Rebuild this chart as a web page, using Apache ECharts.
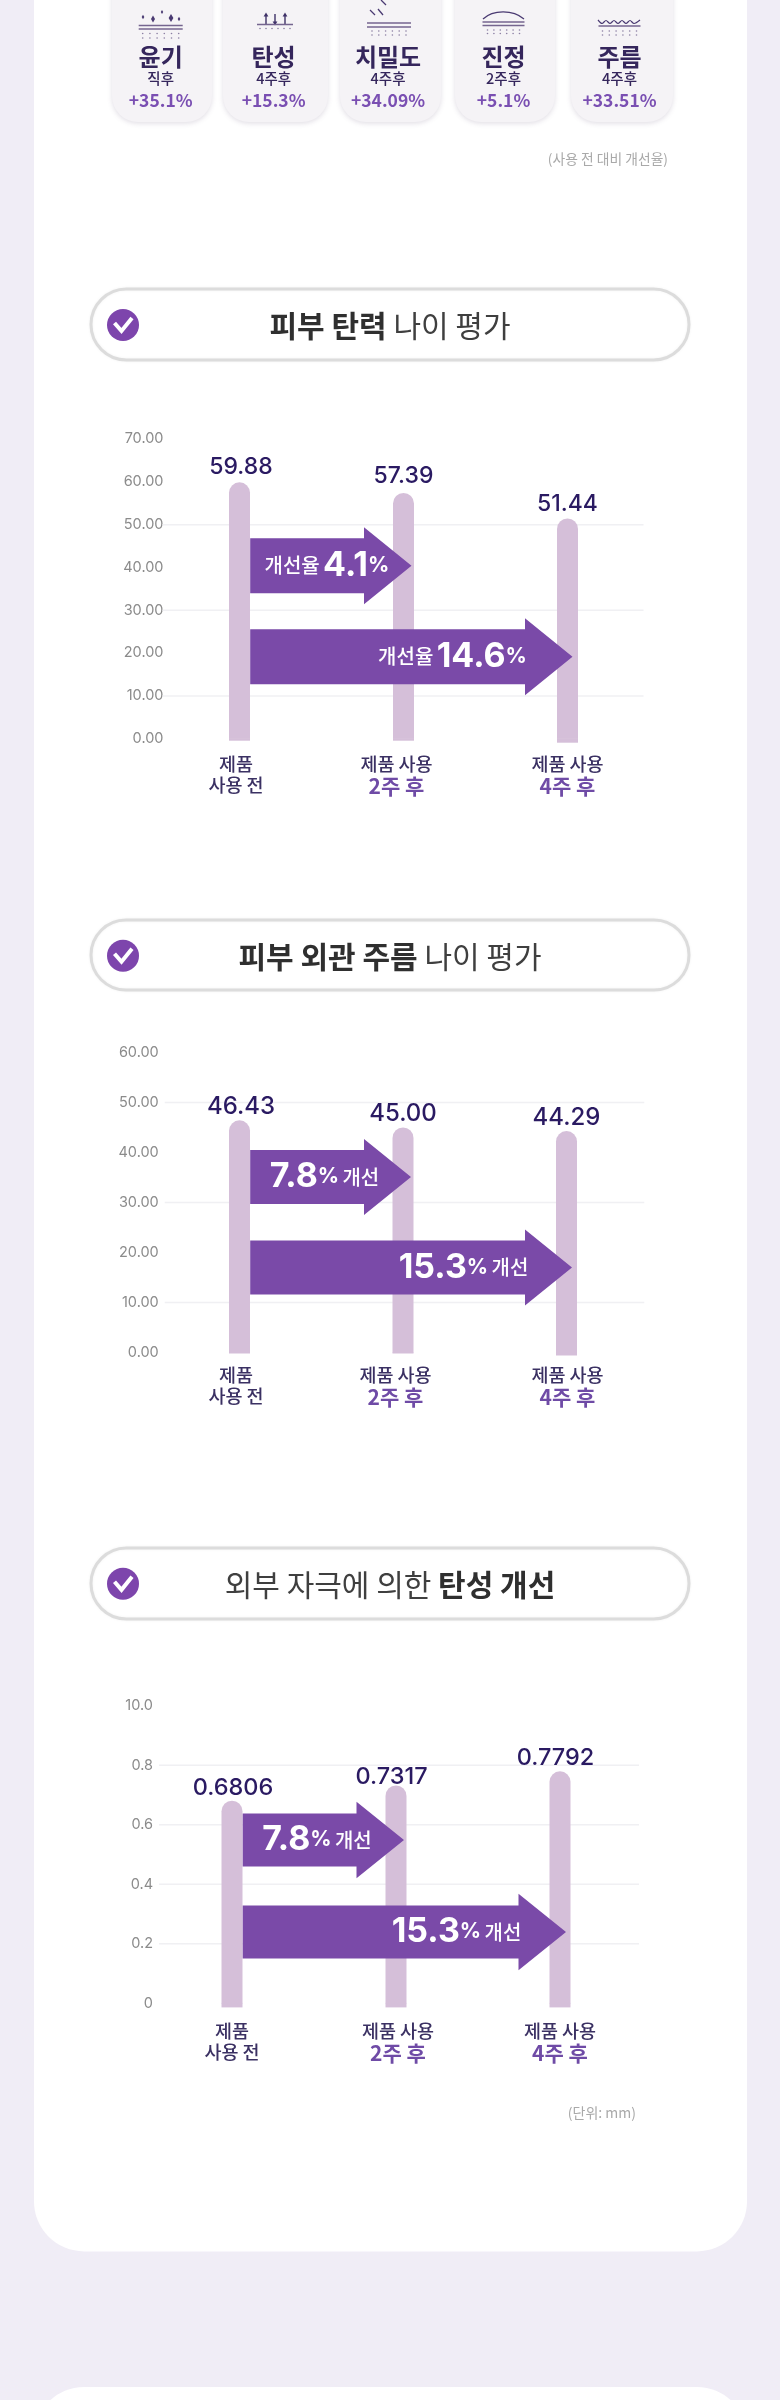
<!DOCTYPE html>
<html><head><meta charset="utf-8">
<style>html,body{margin:0;padding:0;background:#f0edf6}#c{width:780px;height:2400px}</style>
<script src="https://cdn.jsdelivr.net/npm/echarts@6/dist/echarts.min.js"></script>
</head><body><div id="c"></div>
<script>
// ---- data ----
const categories = ['제품\n사용 전', '제품 사용\n2주 후', '제품 사용\n4주 후'];
const elasticityValues = [59.88, 57.39, 51.44];
const wrinkleValues = [46.43, 45.00, 44.29];
const reboundValues = [0.6806, 0.7317, 0.7792];
const reboundTicks = ['0', '0.2', '0.4', '0.6', '0.8', '10.0'];
const elasticityGrid = [10, 30, 50];
const wrinkleGrid = [10, 30, 50];
const reboundGrid = [0.2, 0.4, 0.6, 0.8];
// arrows: from category, to category, level on the value axis
const elasticityArrows = [[0, 1, 40.4], [0, 2, 19.15]];
const wrinkleArrows = [[0, 1, 35.1], [0, 2, 17.0]];
const reboundArrows = [[0, 1, 0.549], [0, 2, 0.24]];
const elasticityArrowText = ['{s|개선율} {b|4.1}{p|%}', '{s|개선율} {b|14.6}{p|%}'];
const wrinkleArrowText = ['{b|7.8}{p|%} {s|개선}', '{b|15.3}{p|%} {s|개선}'];
const reboundArrowText = ['{b|7.8}{p|%} {s|개선}', '{b|15.3}{p|%} {s|개선}'];
const tileNames = ['윤기', '탄성', '치밀도', '진정', '주름'];
const tileTimes = ['직후', '4주후', '4주후', '2주후', '4주후'];
const tileRates = ['+35.1%', '+15.3%', '+34.09%', '+5.1%', '+33.51%'];

// ---- style ----
const FONT = 'Inter, "Noto Sans CJK KR", sans-serif';
const KR = '"Noto Sans CJK KR", sans-serif';
const PURPLE = '#7a4aa8', BAR = '#d5bfd9', NAVY = '#2a1a62', LABEL = '#3b3163', ACCENT = '#6f4ba6';

const charts = [
  {values: elasticityValues, max: 70, interval: 10, dec: 2, gridRows: elasticityGrid, arrows: elasticityArrows, text: elasticityArrowText,
   y0: 738.7, yTop: 439, left: 157.5, width: 492, margin: -6, glL: 5, glR: 6, size: 23,
   labelOff: [[1.5, 0], [0, -1], [0, 1]], catShift: [-3.5, -7, 0], catTop: 15, foot: [2, 2, 4],
   tip: [8, 5], textX: [-84.6, -120], bStart: 10.7, body: 55, headH: 77, headL: 47.5, tickFmt: v => v.toFixed(2)},
  {values: wrinkleValues, max: 60, interval: 10, dec: 2, gridRows: wrinkleGrid, arrows: wrinkleArrows, text: wrinkleArrowText,
   y0: 1352.5, yTop: 1052.5, left: 157.75, width: 490.5, margin: -1, glL: 7, glR: 4, size: 24,
   labelOff: [[1.5, 2], [0, 2], [0, 3]], catShift: [-3.5, -7.5, 1], catTop: 12, foot: [1, 1, 3],
   tip: [8, 5.5], textX: [-86.5, -108.5], bStart: 10.7, body: 54, headH: 76, headL: 47, tickFmt: v => v.toFixed(2)},
  {values: reboundValues, max: 1, interval: 0.2, dec: 4, gridRows: reboundGrid, arrows: reboundArrows, text: reboundArrowText,
   y0: 2003.4, yTop: 1705.6, left: 150, width: 492, margin: -3, glL: 9, glR: 3, size: 23.5,
   labelOff: [[1, 3], [-4.5, 7], [-4.5, 2]], catShift: [0, 2, 0], catTop: 17, foot: [4, 4, 4],
   tip: [8, 6], textX: [-87, -109.5], bStart: 10.7, body: 53, headH: 76.5, headL: 47.5,
   tickFmt: (v) => reboundTicks[Math.round(v / 0.2)]}
];

const grids = [], xAxes = [], yAxes = [], series = [];
charts.forEach((c, k) => {
  grids.push({left: c.left, width: c.width, top: c.yTop, height: c.y0 - c.yTop, containLabel: false});
  const rich = {};
  c.catShift.forEach((dx, i) => {
    const pad = [0, dx < 0 ? -2 * dx : 0, 0, dx > 0 ? 2 * dx : 0];
    rich['a' + i] = {fontFamily: KR, fontSize: 18.5, fontWeight: 500, color: LABEL, lineHeight: 21, padding: pad};
    rich['p' + i] = {fontFamily: KR, fontSize: 21, fontWeight: 700, color: ACCENT, lineHeight: 23, padding: pad};
  });
  xAxes.push({
    type: 'category', gridIndex: k, data: categories,
    axisLine: {show: false}, axisTick: {show: false}, splitLine: {show: false},
    axisLabel: {
      margin: c.catTop, interval: 0, rich,
      formatter: (v, i) => {
        const [a, b] = v.split('\n');
        return '{a' + i + '|' + a + '}\n{' + (b.includes('주') ? 'p' : 'a') + i + '|' + b + '}';
      }
    }
  });
  yAxes.push({
    type: 'value', gridIndex: k, min: 0, max: c.max, interval: c.interval,
    axisLine: {show: false}, axisTick: {show: false}, splitLine: {show: false},
    axisLabel: {margin: c.margin, color: '#8b8b8b', fontFamily: FONT, fontSize: 14.5, letterSpacing: 0.3, formatter: c.tickFmt}
  });
  // faint guide lines
  series.push({
    type: 'custom', xAxisIndex: k, yAxisIndex: k, z: 1, silent: true,
    data: c.gridRows.map(v => [0, v]), encode: {x: 0, y: 1},
    renderItem: (p, api) => {
      const y = api.coord([0, api.value(1)])[1];
      return {type: 'line', shape: {x1: p.coordSys.x + c.glL, y1: y, x2: p.coordSys.x + p.coordSys.width - c.glR, y2: y},
        style: {stroke: '#f0f0f3', lineWidth: 1.5}};
    }
  });
  // bars
  series.push({
    type: 'bar', xAxisIndex: k, yAxisIndex: k, z: 2, barWidth: 21,
    itemStyle: {color: BAR, borderRadius: [10.5, 10.5, 0, 0]},
    label: {show: true, position: 'top', distance: 4, color: NAVY, fontFamily: FONT, fontSize: c.size, fontWeight: 500,
      formatter: p => p.value.toFixed(c.dec)},
    data: c.values.map((v, i) => ({value: v, label: {offset: c.labelOff[i]}}))
  });
  // the bars run slightly past the axis zero in the reference
  series.push({
    type: 'custom', xAxisIndex: k, yAxisIndex: k, z: 2, silent: true, clip: false,
    data: c.foot.map((f, i) => [i, 0]), encode: {x: 0, y: 1},
    renderItem: (p, api) => {
      const pt = api.coord([api.value(0), 0]);
      return {type: 'rect', shape: {x: pt[0] - 10.5, y: pt[1] - 0.5, width: 21, height: c.foot[p.dataIndex] + 0.5}, style: {fill: BAR}};
    }
  });
  // improvement arrows
  series.push({
    type: 'custom', xAxisIndex: k, yAxisIndex: k, z: 3, silent: true, clip: false,
    data: c.arrows, encode: {x: [0, 1], y: 2},
    renderItem: (p, api) => {
      const i = p.dataIndex;
      const from = api.coord([api.value(0), api.value(2)]);
      const to = api.coord([api.value(1), api.value(2)]);
      const x0 = from[0] + c.bStart, tip = to[0] + c.tip[i], y = from[1];
      const hb = c.body / 2, hh = c.headH / 2, neck = tip - c.headL;
      return {type: 'group', children: [
        {type: 'polygon', shape: {points: [[x0, y - hb], [neck, y - hb], [neck, y - hh], [tip, y], [neck, y + hh], [neck, y + hb], [x0, y + hb]]},
         style: {fill: PURPLE}},
        {type: 'text', z2: 5, style: {x: tip + c.textX[i], y: y, align: 'center', verticalAlign: 'middle', text: c.text[i], fill: '#fff',
          rich: {
            s: {fontFamily: KR, fontSize: 20, fontWeight: 500, fill: '#fff', color: '#fff', verticalAlign: 'middle'},
            b: {fontFamily: FONT, fontSize: 34, fontWeight: 700, fill: '#fff', color: '#fff', verticalAlign: 'middle'},
            p: {fontFamily: FONT, fontSize: 21, fontWeight: 700, fill: '#fff', color: '#fff', verticalAlign: 'middle'}
          }}}
      ]};
    }
  });
});

// ---- page furniture ----
const g = [];
const add = el => { el.z = -10; g.push(el); return el; };
const rect = (x, y, w, h, r, style) => add({type: 'rect', shape: {x, y, width: w, height: h, r}, style});
const text = (x, y, t, font, fill, align) => add({type: 'text', z2: 3, style: {x, y, text: t, font, fill, align: align || 'center', verticalAlign: 'middle'}});
const cardFill = {fill: '#fff'};
rect(34, -200, 713, 2451.4, 50, cardFill);
rect(34, 2387, 713, 300, 50, cardFill);

// top tiles
const tileBoxes = [[112, 100], [223, 105], [340, 101], [455, 100], [571, 102]];
const tileCx = [160.7, 273.6, 388, 503.5, 619.5];
const ink = '#75658f';
function baseLines(cx, y1, y2, w) {
  [y1, y2].forEach(y => { if (y != null) add({type: 'line', z2: 2, shape: {x1: cx - w, y1: y, x2: cx + w, y2: y}, style: {stroke: ink, lineWidth: 1.6}}); });
}
function dots(cx, ys, w) {
  ys.forEach(y => { for (let i = 0; i < 6; i++) add({type: 'circle', z2: 2, shape: {cx: cx - w + i * (2 * w / 5), cy: y, r: 0.8}, style: {fill: '#8b7fa3'}}); });
}
function spark(x, y, r) {
  add({type: 'polygon', z2: 2, shape: {points: [[x, y - r], [x + r * 0.6, y], [x, y + r], [x - r * 0.6, y]]}, style: {fill: '#4a3a72'}});
}
function vArrow(x, y1, y2) {
  add({type: 'line', z2: 2, shape: {x1: x, y1, x2: x, y2}, style: {stroke: '#3f3168', lineWidth: 1.4}});
  const d = y2 > y1 ? -1 : 1;
  add({type: 'polygon', z2: 2, shape: {points: [[x, y2 - d * 1.5], [x - 2.4, y2 + d * 2.4], [x + 2.4, y2 + d * 2.4]]}, style: {fill: '#3f3168'}});
}
tileBoxes.forEach((b, i) => {
  rect(b[0], -40, b[1], 162, 26, {fill: '#f5f3f6', shadowColor: 'rgba(90,70,110,0.18)', shadowBlur: 5, shadowOffsetY: 1.5});
  const cx = tileCx[i];
  text(cx, 57, tileNames[i], '700 24px ' + KR, '#35265c');
  text(cx, 78, tileTimes[i], '500 14.5px ' + KR, '#35265c');
  text(cx, 100, tileRates[i], '700 17.5px ' + KR, '#7a4fb2');
});
[[143, 17, 2.2], [153, 19, 3.4], [162, 12, 2], [171, 18, 4], [179, 19, 2.2]].forEach(s => spark(s[0], s[1], s[2]));
baseLines(160.7, 25.5, 29, 22); dots(160.7, [33.5, 38], 18);
vArrow(266, 24, 14); vArrow(275, 14, 24); vArrow(285, 24, 14);
baseLines(275, 24.5, null, 18); dots(275, [28.5], 15);
[[370, 10, 375, 15], [378, 9, 383, 15], [381, 0, 386, 5]].forEach(l =>
  add({type: 'line', z2: 2, shape: {x1: l[0], y1: l[1], x2: l[2], y2: l[3]}, style: {stroke: '#4a3a72', lineWidth: 1.3}}));
baseLines(389, 23, 27, 22); dots(389, [31, 35], 17);
add({type: 'bezierCurve', z2: 2, shape: {x1: 483, y1: 19, cpx1: 493, cpy1: 9.5, cpx2: 513, cpy2: 9.5, x2: 524, y2: 19}, style: {stroke: '#4a3a72', lineWidth: 1.2, fill: null}});
baseLines(503.5, 22, 25.5, 21); dots(503.5, [30, 33.5], 16);
add({type: 'polyline', z2: 2, shape: {points: [[598, 20], [602, 23.5], [606, 20.5], [610, 23.5], [614, 20.5], [618, 23.5], [622, 20.5], [626, 23.5], [630, 20.5], [634, 23.5], [640, 20]], smooth: 0.3}, style: {stroke: '#4a3a72', lineWidth: 1.2, fill: null}});
baseLines(619.5, 26, null, 21); dots(619.5, [31, 35], 17);
text(668, 159, '(사용 전 대비 개선율)', '400 13.8px ' + KR, '#a9a9a9', 'right');

// section pills
function pill(y, h, cy, before, strong, after, cx) {
  rect(91, y, 598, h, h / 2, {fill: '#fff', stroke: '#dcdcdc', lineWidth: 3, shadowColor: 'rgba(0,0,0,0.05)', shadowBlur: 3});
  add({type: 'circle', z2: 3, shape: {cx: 123, cy, r: 16}, style: {fill: '#7d45ac'}});
  add({type: 'polyline', z2: 4, shape: {points: [[114.5, cy - 2], [121.5, cy + 6], [132, cy - 7]]}, style: {stroke: '#fff', lineWidth: 4, fill: null}});
  add({type: 'text', z2: 3, style: {x: cx, y: cy + 1, align: 'center', verticalAlign: 'middle',
    text: (before ? '{r|' + before + '}' : '') + '{s|' + strong + '}' + (after ? '{r|' + after + '}' : ''),
    rich: {
      r: {fontFamily: KR, fontSize: 30, fontWeight: 400, fill: '#3f3f3f', color: '#3f3f3f'},
      s: {fontFamily: KR, fontSize: 30, fontWeight: 700, fill: '#2f2f2f', color: '#2f2f2f'}
    }}});
}
pill(289, 71, 325, '', '피부 탄력', ' 나이 평가', 390);
pill(920, 70, 955.7, '', '피부 외관 주름', ' 나이 평가', 390);
pill(1548, 71, 1583.8, '외부 자극에 의한 ', '탄성 개선', '', 390);
text(636, 2112.7, '(단위: mm)', '400 14px ' + KR, '#a9a9a9', 'right');

const chart = echarts.init(document.getElementById('c'), null, {width: 780, height: 2400, renderer: 'canvas'});
chart.setOption({
  animation: false,
  backgroundColor: '#f0edf6',
  tooltip: {show: false},
  textStyle: {fontFamily: FONT},
  graphic: {elements: g},
  grid: grids, xAxis: xAxes, yAxis: yAxes, series
});
</script></body></html>
